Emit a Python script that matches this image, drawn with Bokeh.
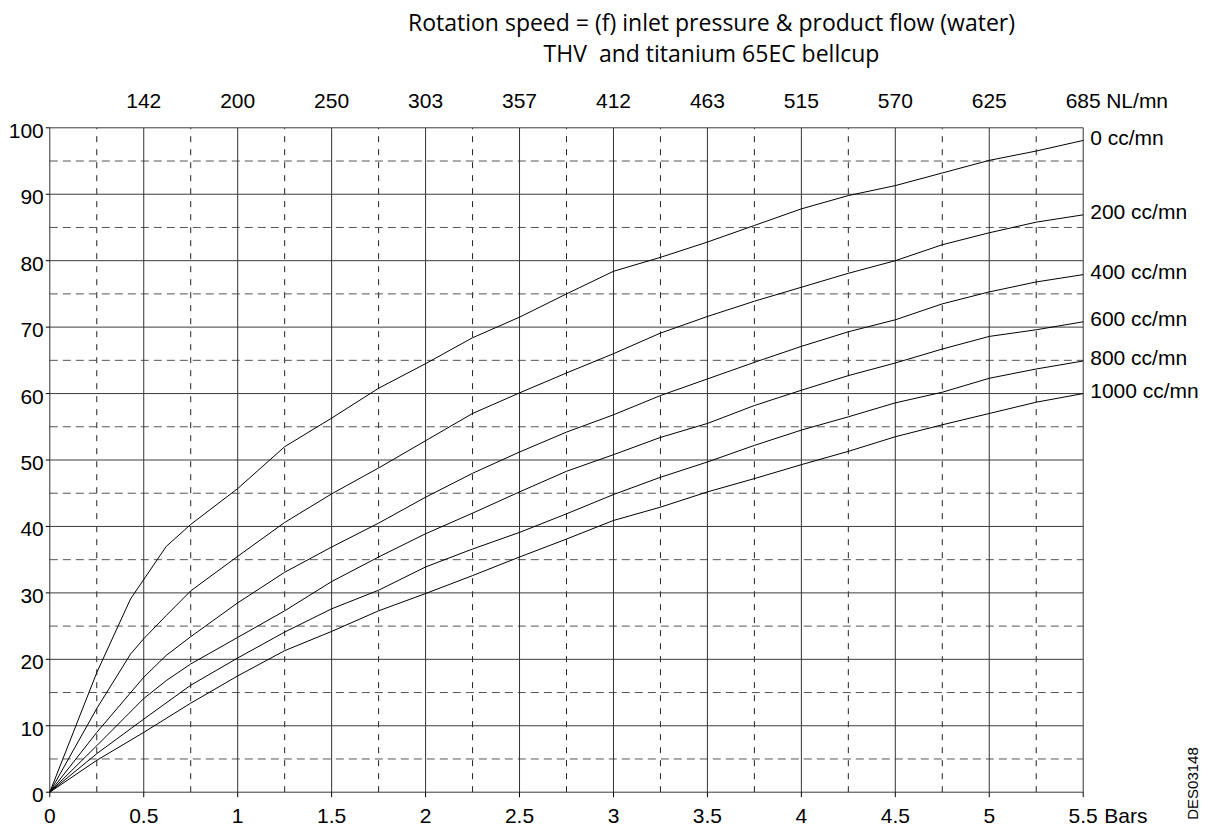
import math
from bokeh.plotting import figure
from bokeh.models import Range1d
from bokeh.core.properties import value
from bokeh.embed import file_html
from bokeh.resources import INLINE

# ---------------- data ----------------
pressure_0 = [0, 0.25, 0.43, 0.62, 0.75, 1.0, 1.25, 1.5, 1.75, 2.0, 2.25, 2.5, 2.75,
              3.0, 3.25, 3.5, 3.75, 4.0, 4.25, 4.5, 4.75, 5.0, 5.25, 5.5]
speed_0 = [0, 18.0, 29.1, 37.0, 40.3, 45.7, 52.0, 56.3, 60.8, 64.5, 68.4, 71.5, 75.0,
           78.4, 80.5, 82.8, 85.3, 87.8, 89.8, 91.3, 93.2, 95.1, 96.5, 98.1]

pressure_200 = [0, 0.25, 0.43, 0.5, 0.62, 0.75, 1.0, 1.25, 1.5, 1.75, 2.0, 2.25, 2.5,
                2.75, 3.0, 3.25, 3.5, 3.75, 4.0, 4.25, 4.5, 4.75, 5.0, 5.25, 5.5]
speed_200 = [0, 12.6, 20.8, 23.1, 26.6, 30.3, 35.5, 40.6, 44.9, 48.8, 52.9, 57.0, 60.1,
             63.1, 66.0, 69.1, 71.6, 73.9, 76.0, 78.1, 80.0, 82.4, 84.2, 85.8, 86.9]

pressure_400 = [0, 0.25, 0.5, 0.62, 0.75, 1.0, 1.25, 1.5, 1.75, 2.0, 2.25, 2.5, 2.75,
                3.0, 3.25, 3.5, 3.75, 4.0, 4.25, 4.5, 4.75, 5.0, 5.25, 5.5]
speed_400 = [0, 9.0, 17.3, 20.6, 23.4, 28.5, 33.1, 36.9, 40.5, 44.4, 48.0, 51.2, 54.2,
             56.8, 59.7, 62.2, 64.7, 67.1, 69.3, 71.1, 73.5, 75.3, 76.8, 77.9]

pressure_600 = [0, 0.25, 0.5, 0.62, 0.75, 1.0, 1.25, 1.5, 1.75, 2.0, 2.25, 2.5, 2.75,
                3.0, 3.25, 3.5, 3.75, 4.0, 4.25, 4.5, 4.75, 5.0, 5.25, 5.5]
speed_600 = [0, 7.0, 14.1, 16.8, 19.3, 23.3, 27.3, 31.7, 35.4, 38.9, 42.0, 45.2, 48.3,
             50.8, 53.4, 55.5, 58.2, 60.5, 62.7, 64.6, 66.7, 68.6, 69.6, 70.8]

pressure_800 = [0, 0.25, 0.5, 0.75, 1.0, 1.25, 1.5, 1.75, 2.0, 2.25, 2.5, 2.75,
                3.0, 3.25, 3.5, 3.75, 4.0, 4.25, 4.5, 4.75, 5.0, 5.25, 5.5]
speed_800 = [0, 5.8, 11.0, 16.1, 20.2, 24.1, 27.6, 30.4, 33.9, 36.6, 39.1, 41.9,
             44.8, 47.4, 49.7, 52.2, 54.5, 56.5, 58.6, 60.2, 62.3, 63.7, 64.9]

pressure_1000 = [0, 0.25, 0.5, 0.75, 1.0, 1.25, 1.5, 1.75, 2.0, 2.25, 2.5, 2.75,
                 3.0, 3.25, 3.5, 3.75, 4.0, 4.25, 4.5, 4.75, 5.0, 5.25, 5.5]
speed_1000 = [0, 4.8, 9.0, 13.4, 17.5, 21.3, 24.2, 27.3, 29.9, 32.6, 35.4, 38.1,
              40.9, 42.9, 45.2, 47.2, 49.3, 51.3, 53.5, 55.3, 57.0, 58.7, 60.0]

series_labels = ["0 cc/mn", "200 cc/mn", "400 cc/mn", "600 cc/mn", "800 cc/mn", "1000 cc/mn"]

pressure_ticks = [0, 0.5, 1, 1.5, 2, 2.5, 3, 3.5, 4, 4.5, 5, 5.5]
pressure_labels = ["0", "0.5", "1", "1.5", "2", "2.5", "3", "3.5", "4", "4.5", "5", "5.5"]
flow_ticks = [0.5, 1, 1.5, 2, 2.5, 3, 3.5, 4, 4.5, 5, 5.5]
flow_labels = ["142", "200", "250", "303", "357", "412", "463", "515", "570", "625", "685"]
speed_ticks = [0, 10, 20, 30, 40, 50, 60, 70, 80, 90, 100]
speed_labels = ["0", "10", "20", "30", "40", "50", "60", "70", "80", "90", "100"]
minor_pressure = [0.25, 0.75, 1.25, 1.75, 2.25, 2.75, 3.25, 3.75, 4.25, 4.75, 5.25]
minor_speed = [5, 15, 25, 35, 45, 55, 65, 75, 85, 95]

title_1 = "Rotation speed = (f) inlet pressure & product flow (water)"
title_2 = "THV\u00a0 and titanium 65EC bellcup"
x_unit = "Bars"
flow_unit = "NL/mn"
ref_code = "DES03148"

# ---------------- layout ----------------
X_MIN, X_MAX = pressure_ticks[0], pressure_ticks[-1]
Y_MIN, Y_MAX = speed_ticks[0], speed_ticks[-1]
PLOT_W, PLOT_H = 1033.4, 664.4          # pixel extent of the gridded area
LEFT = 49.3                             # page x of pressure 0
ZERO_Y = 791.7                          # page y of speed 0
CANVAS_W, CANVAS_H = 1205, 832
px_x = PLOT_W / (X_MAX - X_MIN)
px_y = PLOT_H / (Y_MAX - Y_MIN)
x_start = X_MIN - LEFT / px_x
x_end = X_MIN + (CANVAS_W - LEFT) / px_x
y_start = Y_MIN - (CANVAS_H - ZERO_Y) / px_y
y_end = Y_MIN + ZERO_Y / px_y

def ydata(page_y):      # page pixel (from top) -> data units
    return Y_MIN + (ZERO_Y - page_y) / px_y

def xdata(page_x):
    return X_MIN + (page_x - LEFT) / px_x

FONT = value("Liberation Sans")
SIZE = value("21px")

p = figure(frame_width=CANVAS_W, frame_height=CANVAS_H,
           x_range=Range1d(x_start, x_end), y_range=Range1d(y_start, y_end),
           output_backend="svg", toolbar_location=None,
           min_border=0)
p.background_fill_color = "white"
p.border_fill_color = "white"
p.outline_line_color = None
p.xgrid.visible = False
p.ygrid.visible = False
p.axis.visible = False

# dashed minor grid
p.segment(x0=minor_pressure, y0=Y_MIN, x1=minor_pressure, y1=Y_MAX,
          line_color="#222222", line_dash="6 7", line_width=1)
p.segment(x0=X_MIN, y0=minor_speed, x1=X_MAX, y1=minor_speed,
          line_color="#555555", line_dash="8 5", line_width=1)
# solid major grid (including the frame edges)
p.segment(x0=pressure_ticks, y0=Y_MIN, x1=pressure_ticks, y1=Y_MAX,
          line_color="#333333", line_width=1)
p.segment(x0=X_MIN, y0=speed_ticks, x1=X_MAX, y1=speed_ticks,
          line_color="#3c3c3c", line_width=1)
# tick marks
p.segment(x0=pressure_ticks, y0=Y_MIN, x1=pressure_ticks, y1=Y_MIN - 5 / px_y,
          line_color="black", line_width=1)
p.segment(x0=X_MIN - 4 / px_x, y0=speed_ticks, x1=X_MIN, y1=speed_ticks,
          line_color="black", line_width=1)

# curves
all_x = [pressure_0, pressure_200, pressure_400, pressure_600, pressure_800, pressure_1000]
all_y = [speed_0, speed_200, speed_400, speed_600, speed_800, speed_1000]
for xs, ys in zip(all_x, all_y):
    p.line(xs, ys, line_color="black", line_width=1)

# curve labels at the right end of each curve
p.text(x=[xs[-1] for xs in all_x], y=[ys[-1] + 0.5 for ys in all_y], text=series_labels,
       x_offset=7, text_align="left", text_baseline="middle",
       text_font=FONT, text_font_size=SIZE, text_color="black")

# left scale (rotation speed)
p.text(x=[X_MIN] * len(speed_ticks), y=speed_ticks, text=speed_labels,
       x_offset=-6, y_offset=3, text_align="right", text_baseline="middle",
       text_font=FONT, text_font_size=SIZE, text_color="black")

# bottom scale (pressure)
y_bot = ydata(815)
p.text(x=pressure_ticks, y=[y_bot] * len(pressure_ticks), text=pressure_labels,
       text_align="center", text_baseline="middle",
       text_font=FONT, text_font_size=SIZE, text_color="black")
p.text(x=[pressure_ticks[-1]], y=[y_bot], text=[x_unit], x_offset=21,
       text_align="left", text_baseline="middle",
       text_font=FONT, text_font_size=SIZE, text_color="black")

# top scale (product flow)
y_top = ydata(100)
p.text(x=flow_ticks, y=[y_top] * len(flow_ticks), text=flow_labels,
       text_align="center", text_baseline="middle",
       text_font=FONT, text_font_size=SIZE, text_color="black")
p.text(x=[flow_ticks[-1]], y=[y_top], text=[flow_unit], x_offset=23,
       text_align="left", text_baseline="middle",
       text_font=FONT, text_font_size=SIZE, text_color="black")

# title
x_mid = xdata(711)
p.text(x=[x_mid, x_mid], y=[ydata(21), ydata(52)], text=[title_1, title_2],
       text_align="center", text_baseline="middle",
       text_font=value("Open Sans"), text_font_size=value("23px"), text_color="black")

# reference code (vertical)
p.text(x=[xdata(1192)], y=[ydata(783)], text=[ref_code], angle=math.pi / 2,
       text_align="center", text_baseline="middle",
       text_font=FONT, text_font_size=value("15px"), text_color="black")

open("out.html", "w").write(file_html(p, INLINE))
